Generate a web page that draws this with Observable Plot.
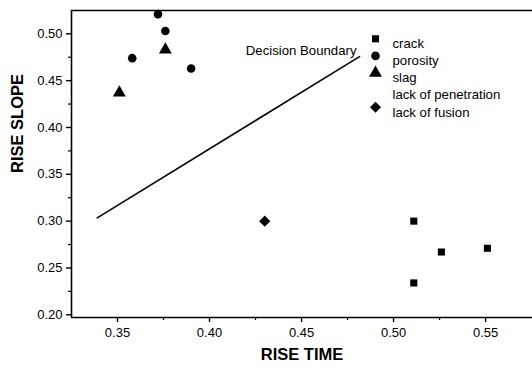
<!DOCTYPE html>
<html>
<head>
<meta charset="utf-8">
<script src="https://cdn.jsdelivr.net/npm/d3@7"></script>
<script src="https://cdn.jsdelivr.net/npm/@observablehq/plot@0.6"></script>
<style>
  html, body { margin: 0; padding: 0; background: #fff; }
  #chart svg { display: block; }
</style>
</head>
<body>
<div id="chart"></div>
<script>
// ---- data ----
const crackX = [0.511, 0.526, 0.551, 0.511];
const crackY = [0.300, 0.267, 0.271, 0.234];
const porosityX = [0.372, 0.376, 0.358, 0.390];
const porosityY = [0.521, 0.503, 0.474, 0.463];
const slagX = [0.376, 0.351];
const slagY = [0.483, 0.437];
const fusionX = [0.430];
const fusionY = [0.300];
const boundaryX = [0.339, 0.4815];
const boundaryY = [0.3035, 0.4757];

const xTicks = [0.35, 0.40, 0.45, 0.50, 0.55];
const xMinorTicks = [0.375, 0.425, 0.475, 0.525];
const yTicks = [0.20, 0.25, 0.30, 0.35, 0.40, 0.45, 0.50];
const yMinorTicks = [0.225, 0.275, 0.325, 0.375, 0.425, 0.475];

const legendLabels = ["crack", "porosity", "slag", "lack of penetration", "lack of fusion"];
const legendSymbols = ["square", "circle", "triangle", null, "diamond2"];

const xLabel = "RISE TIME";
const yLabel = "RISE SLOPE";
const boundaryLabel = "Decision Boundary";

// ---- build ----
const xDomain = [0.325, 0.5755];
const yDomain = [0.1971, 0.5249];
const toPts = (xs, ys) => xs.map((x, i) => ({x, y: ys[i]}));
const fmt = d3.format(".2f");
const symR = {square: 4, circle: 4.3, triangle: 4.8, diamond2: 5};

const legendMarks = [];
legendLabels.forEach((label, i) => {
  if (legendSymbols[i]) {
    legendMarks.push(Plot.dot([0], {
      frameAnchor: "top-left", dx: 304, dy: 28.3 + 17.1 * i,
      symbol: legendSymbols[i], r: symR[legendSymbols[i]], fill: "black", stroke: "none"
    }));
  }
  legendMarks.push(Plot.text([label], {
    text: d => d, frameAnchor: "top-left", dx: 321, dy: 28.3 + 17.1 * i,
    textAnchor: "start", fontSize: 13.2, fill: "black"
  }));
});

const chart = Plot.plot({
  width: 532,
  height: 368,
  marginLeft: 71,
  marginRight: 0,
  marginTop: 10,
  marginBottom: 51,
  style: {fontFamily: "'Liberation Sans', Arial, sans-serif", color: "black", background: "white"},
  x: {domain: xDomain},
  y: {domain: yDomain},
  marks: [
    // frame lines
    Plot.ruleX([xDomain[0]], {stroke: "black", strokeWidth: 1.6}),
    Plot.ruleY([yDomain[0]], {stroke: "black", strokeWidth: 1.6}),
    Plot.ruleY([yDomain[1]], {stroke: "black", strokeWidth: 1.6}),
    // axes
    Plot.axisX({ticks: xTicks, tickFormat: fmt, tickSize: 5, tickPadding: 5, fontSize: 13, label: null, strokeWidth: 1.4, fill: "black"}),
    Plot.axisX({ticks: xMinorTicks, text: null, tickSize: 3, label: null, strokeWidth: 1.2}),
    Plot.axisY({ticks: yTicks, tickFormat: fmt, tickSize: 5, tickPadding: 4, fontSize: 13, label: null, strokeWidth: 1.4, fill: "black"}),
    Plot.axisY({ticks: yMinorTicks, text: null, tickSize: 3, label: null, strokeWidth: 1.2}),
    // axis titles
    Plot.text([xLabel], {text: d => d, frameAnchor: "bottom", dy: 42, fontSize: 16.5, fontWeight: "bold", fill: "black"}),
    Plot.text([yLabel], {text: d => d, frameAnchor: "left", dx: -54, dy: 9, rotate: -90, fontSize: 16.5, fontWeight: "bold", fill: "black"}),
    // decision boundary
    Plot.line(toPts(boundaryX, boundaryY), {x: "x", y: "y", stroke: "black", strokeWidth: 1.6}),
    Plot.text([toPts(boundaryX, boundaryY)[1]], {x: "x", y: "y", text: () => boundaryLabel, textAnchor: "end", dx: -3, dy: -6, fontSize: 13.2, fill: "black"}),
    // data
    Plot.dot(toPts(crackX, crackY), {x: "x", y: "y", symbol: "square", r: symR.square, fill: "black"}),
    Plot.dot(toPts(porosityX, porosityY), {x: "x", y: "y", symbol: "circle", r: symR.circle, fill: "black"}),
    Plot.dot(toPts(slagX, slagY), {x: "x", y: "y", symbol: "triangle", r: symR.triangle, fill: "black"}),
    Plot.dot(toPts(fusionX, fusionY), {x: "x", y: "y", symbol: "diamond2", r: symR.diamond2, fill: "black"}),
    ...legendMarks
  ]
});
document.getElementById("chart").appendChild(chart);
</script>
</body>
</html>
